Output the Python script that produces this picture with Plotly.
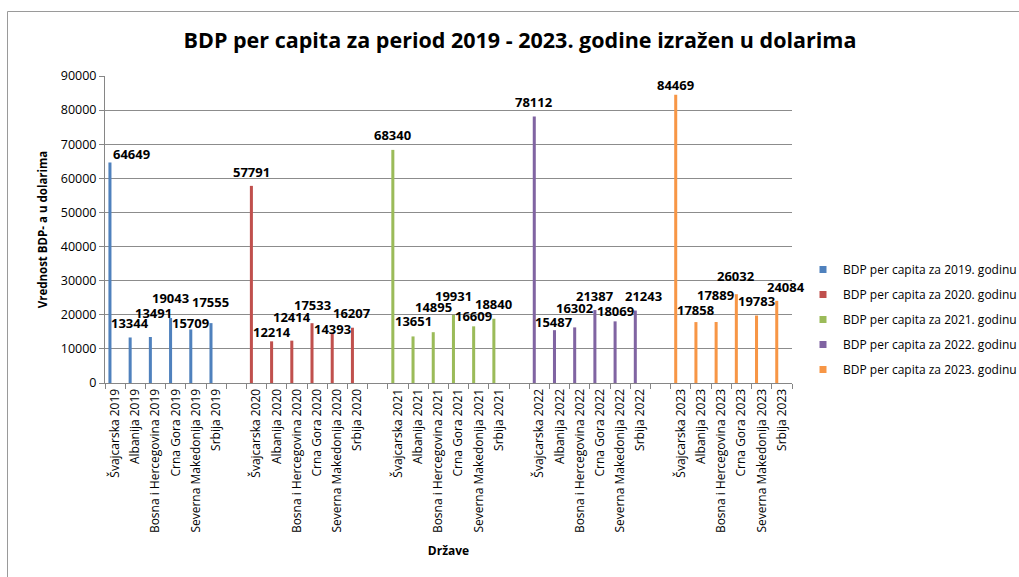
import plotly.graph_objects as go

# ---------------- data ----------------
countries = ["Švajcarska", "Albanija", "Bosna i Hercegovina", "Crna Gora",
             "Severna Makedonija", "Srbija"]
years = [2019, 2020, 2021, 2022, 2023]
series_names = [f"BDP per capita za {y}. godinu" for y in years]

bdp_2019 = [64649, 13344, 13491, 19043, 15709, 17555]
bdp_2020 = [57791, 12214, 12414, 17533, 14393, 16207]
bdp_2021 = [68340, 13651, 14895, 19931, 16609, 18840]
bdp_2022 = [78112, 15487, 16302, 21387, 18069, 21243]
bdp_2023 = [84469, 17858, 17889, 26032, 19783, 24084]
values = [bdp_2019, bdp_2020, bdp_2021, bdp_2022, bdp_2023]

y_ticks = [0, 10000, 20000, 30000, 40000, 50000, 60000, 70000, 80000, 90000]

# ---------------- style / layout ----------------
colors = ["#4F81BD", "#C0504D", "#9BBB59", "#8064A2", "#F79646"]
W, H = 1019, 577
L, R, T, B = 105, 227, 76, 194
plot_w = W - L - R
plot_h = H - T - B

# category axis: 6 countries per year, blank separator between years
categories = []
group_cats = []
for i, y in enumerate(years):
    cats = [f"{c} {y}" for c in countries]
    group_cats.append(cats)
    categories += cats
    if i < len(years) - 1:
        categories.append(" " * (i + 1))
n_cats = len(categories)
cat_px = plot_w / n_cats

bar_width = 0.15
bar_offset = -0.33

# label nudges (pixels): vertical distance above bar top, horizontal from bar
label_up = [
    [8, 14, 24, 20, 6, 21],
    [14, 9, 24, 18, 5, 15],
    [15, 15, 25, 19, 10, 15],
    [15, 8, 19, 14, 10, 15],
    [10, 12, 27, 18, 15, 14],
]
label_dx = [
    [22, 0, 3, 0, 0, 0],
    [0, 0, 0, 0, 0, 0],
    [0, 0, 0, 0, 0, 0],
    [0, 0, 0, 0, 0, 8],
    [0, 0, -1, 0, 0, 9],
]
bar_center_px = (bar_offset + bar_width / 2) * cat_px

fig = go.Figure()
annotations = []
for i in range(len(years)):
    fig.add_trace(go.Bar(
        x=group_cats[i], y=values[i], name=series_names[i],
        marker=dict(color=colors[i], line=dict(width=0)),
        width=bar_width, offset=bar_offset,
        legendgroup=str(i), showlegend=False,
    ))
    # legend entry with a small square marker
    fig.add_trace(go.Scatter(
        x=[None], y=[None], mode="markers", name=series_names[i],
        marker=dict(symbol="square", size=7, color=colors[i]),
        legendgroup=str(i), showlegend=True,
    ))
    for j, v in enumerate(values[i]):
        annotations.append(dict(
            x=group_cats[i][j], y=v, xref="x", yref="y",
            text=str(v), showarrow=False,
            xanchor="center", yanchor="middle",
            xshift=bar_center_px + label_dx[i][j], yshift=label_up[i][j],
            font=dict(family="Open Sans", size=13, color="#000000", weight="bold"),
        ))

fig.update_layout(
    width=W, height=H,
    margin=dict(l=L, r=R, t=T, b=B, autoexpand=False),
    paper_bgcolor="white", plot_bgcolor="white",
    title=dict(
        text="<b>BDP per capita za period 2019 - 2023. godine izražen u dolarima</b>",
        x=520 / W, xref="container", xanchor="center", y=1 - 40 / H, yanchor="middle",
        font=dict(family="Open Sans", size=21.5, color="#000000"),
    ),
    barmode="overlay",
    showlegend=True,
    legend=dict(
        x=(803 - L) / plot_w, xanchor="left",
        y=(H - B - 268 + 13) / plot_h, yanchor="top",
        font=dict(family="Open Sans", size=12, color="#000000"),
        traceorder="grouped", tracegroupgap=6,
        itemwidth=30, bgcolor="rgba(0,0,0,0)",
    ),
    annotations=annotations,
    shapes=[dict(
        type="rect", xref="paper", yref="paper",
        x0=(7.5 - L) / plot_w, x1=(W + 10 - L) / plot_w,
        y0=(H - B - (H + 10)) / plot_h, y1=(H - B - 11.5) / plot_h,
        line=dict(color="#9A9A9A", width=1), fillcolor="rgba(0,0,0,0)",
        layer="above",
    )],
)

fig.update_xaxes(
    type="category", categoryorder="array", categoryarray=categories,
    range=[-0.5, n_cats - 0.5],
    tickangle=-90, tickson="boundaries", ticks="outside", ticklen=5,
    tickcolor="#868686", showline=True, linecolor="#868686", linewidth=1,
    showgrid=False, zeroline=False,
    tickfont=dict(family="Open Sans", size=12, color="#000000"),
    title=dict(text="<b>Države</b>", standoff=14,
               font=dict(family="Open Sans", size=12, color="#000000")),
)
fig.update_yaxes(
    range=[0, 90000], tickvals=y_ticks, ticktext=[str(v) for v in y_ticks],
    ticks="outside", ticklen=5, tickcolor="#868686",
    showline=True, linecolor="#868686", linewidth=1,
    showgrid=True, gridcolor="#8C8C8C", gridwidth=1, zeroline=False,
    tickfont=dict(family="Open Sans", size=12.5, color="#000000"),
    title=dict(text="<b>Vrednost BDP- a u dolarima</b>", standoff=10,
               font=dict(family="Open Sans", size=11.5, color="#000000")),
)

fig.write_html("out.html")
